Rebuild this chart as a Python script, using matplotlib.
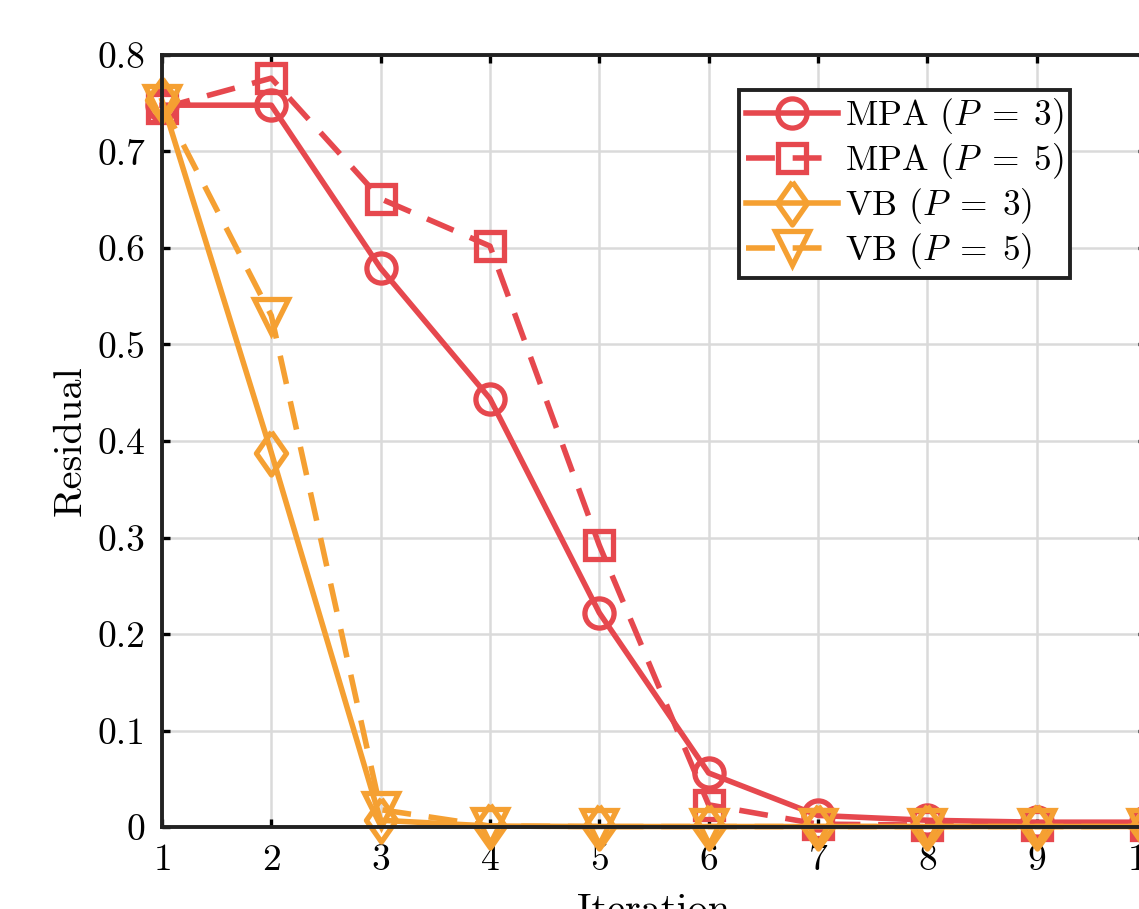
import numpy as np
import matplotlib
matplotlib.use("Agg")
import matplotlib.pyplot as plt

# Residual per iteration
iterations = [1, 2, 3, 4, 5, 6, 7, 8, 9, 10]
mpa_p3 = [0.748, 0.748, 0.579, 0.444, 0.222, 0.056, 0.012, 0.007, 0.005, 0.005]
mpa_p5 = [0.745, 0.776, 0.651, 0.602, 0.292, 0.023, 0.003, 0.002, 0.002, 0.002]
vb_p3 = [0.753, 0.388, 0.007, 0.001, 0.0005, 0.0005, 0.0005, 0.0005, 0.0005, 0.0005]
vb_p5 = [0.750, 0.530, 0.018, 0.001, 0.0005, 0.0005, 0.0005, 0.0005, 0.0005, 0.0005]

red = "#E6484E"
orange = "#F5A032"

plt.rcParams["font.family"] = "serif"
plt.rcParams["font.serif"] = ["cmr10", "DejaVu Serif"]
plt.rcParams["mathtext.fontset"] = "cm"
plt.rcParams["axes.formatter.use_mathtext"] = True
plt.rcParams["axes.unicode_minus"] = False

# MATLAB-style diamond, a bit narrower than tall
diamond = [(0, 1), (0.7, 0), (0, -1), (-0.7, 0), (0, 1)]

fig = plt.figure(figsize=(11.39, 9.09), dpi=100)
ax = fig.add_axes([0.1422, 0.0902, 0.8639, 0.8493])

lw = 4.0
mew = 3.8
dash = (5.2, 3.2)
ax.plot(iterations, mpa_p3, "-", color=red, lw=lw, marker="o", ms=21,
	mfc="none", mew=mew, label="MPA $(P\\;=\\;3)$", clip_on=False)
ax.plot(iterations, mpa_p5, "--", color=red, lw=lw, marker="s", ms=20,
	mfc="none", mew=mew, dashes=dash, label="MPA $(P\\;=\\;5)$", clip_on=False)
ax.plot(iterations, vb_p3, "-", color=orange, lw=lw, marker=diamond, ms=31,
	mfc="none", mew=mew, label="VB $(P\\;=\\;3)$", clip_on=False)
ax.plot(iterations, vb_p5, "--", color=orange, lw=lw, marker="v", ms=25,
	mfc="none", mew=mew, dashes=dash, label="VB $(P\\;=\\;5)$", clip_on=False)

ax.set_xlim(1, 10)
ax.set_ylim(0, 0.8)
ax.set_xticks(iterations)
ax.set_yticks(np.arange(0, 0.81, 0.1))
ax.set_yticklabels(["0", "0.1", "0.2", "0.3", "0.4", "0.5", "0.6", "0.7", "0.8"])

ax.grid(True, color="#dadada", lw=1.8)
ax.set_axisbelow(True)
ax.tick_params(direction="in", length=6, width=2.4, top=True, right=True,
	labelsize=27, pad=12)
for s in ax.spines.values():
	s.set_linewidth(2.8)
	s.set_color("#222222")

ax.set_xlabel("Iteration", fontsize=29, labelpad=12)
ax.set_ylabel("Residual", fontsize=29, labelpad=6)

leg = ax.legend(loc="upper right", bbox_to_anchor=(0.9228, 0.9547),
	borderaxespad=0, fontsize=25.5, frameon=True, fancybox=False,
	handlelength=2.6, handletextpad=0.2, labelspacing=0.14,
	borderpad=0.18)
leg.get_frame().set_edgecolor("#222222")
leg.get_frame().set_linewidth(2.8)
leg.get_frame().set_alpha(1)

fig.savefig("out.png", dpi=100)
